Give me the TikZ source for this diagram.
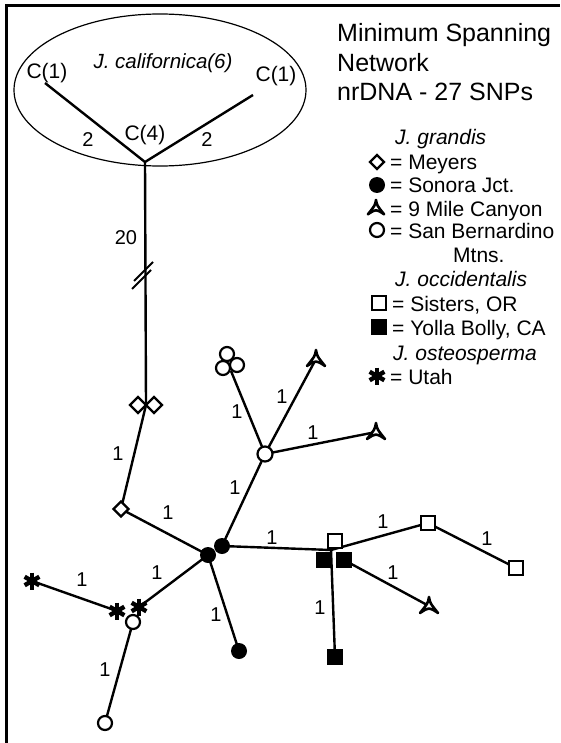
\documentclass[tikz,border=0pt]{standalone}
\usepackage{fontspec}
\setmainfont{Liberation Sans}
\usetikzlibrary{shapes.geometric,backgrounds}
\tikzset{
  edge/.style={line width=2.4pt},
  lbl/.style={font=\fontsize{20}{22}\selectfont, inner sep=0pt},
  clbl/.style={font=\fontsize{21}{23}\selectfont, inner sep=0pt},
  ttl/.style={font=\fontsize{25}{30}\selectfont, inner sep=0pt, anchor=base west},
  leg/.style={font=\fontsize{21}{24}\selectfont, inner sep=0pt, anchor=base west},
  opencirc/.style={circle, draw, line width=2.2pt, fill=white, minimum size=14pt, inner sep=0pt},
  fillcirc/.style={circle, fill=black, minimum size=16pt, inner sep=0pt},
  opensq/.style={rectangle, draw, line width=2.2pt, fill=white, minimum size=14pt, inner sep=0pt},
  fillsq/.style={rectangle, fill=black, minimum size=16pt, inner sep=0pt},
  opendia/.style={diamond, draw, line width=2.2pt, fill=white, minimum size=17pt, inner sep=0pt},
  asterisk/.style={circle, minimum size=22pt, inner sep=0pt, path picture={
    \fill[shift={(path picture bounding box.center)}] (0,0) circle (4);
    \foreach \a in {90,30,150}
      \draw[line width=4.4pt, shift={(path picture bounding box.center)}] (\a:-8.5) -- (\a:8.5);}},
  tri/.style={circle, minimum size=30pt, inner sep=0pt, path picture={
    \draw[line width=2.6pt, fill=white, line join=round, shift={(path picture bounding box.center)}]
      (0,-9) .. controls (1,-3) .. (9,7) .. controls (0,1) .. (-9,7) .. controls (-1,-3) .. (0,-9) -- cycle;}}
}
\begin{document}
\begin{tikzpicture}[x=1pt,y=-1pt]
\useasboundingbox (0,0) rectangle (560,743);
% frame
\draw[line width=3pt] (6,743) -- (6,6) -- (560,6);
% californica ellipse
\draw[line width=1.2pt] (160,90) ellipse [x radius=146, y radius=76];
\coordinate (cfour) at (145,162);
\coordinate (cleft) at (45,83);
\coordinate (cright) at (253,95);
\node[clbl, font=\fontsize{20.5}{22}\selectfont\itshape] (calif) at (163,63) {J. californica(6)};
\node[clbl] (c1l) at (47,73) {C(1)};
\node[clbl] (c1r) at (276,76) {C(1)};
\node[clbl] (c4) at (145,135) {C(4)};
\node[lbl] (l2a) at (88,140) {2};
\node[lbl] (l2b) at (207,140) {2};
% network nodes
\node[opendia] (dia1) at (138,405) {};
\node[opendia] (dia2) at (154,405) {};
\coordinate (djunc) at (146,405);
\node[opendia, minimum size=16pt] (dia3) at (121,509) {};
\node[fillcirc] (son1) at (208,555) {};
\node[fillcirc] (son2) at (222,546) {};
\node[fillcirc] (son3) at (239,651) {};
\node[opencirc, minimum size=15pt] (sb1) at (265,454) {};
\node[opencirc] (sb2) at (227,354) {};
\node[opencirc] (sb3) at (223,368) {};
\node[opencirc] (sb4) at (237,365) {};
\coordinate (sbj) at (231,371);
\node[tri] (tri1) at (316,359) {};
\node[tri] (tri2) at (376,432) {};
\node[tri] (tri3) at (429,606) {};
\coordinate (cjunc) at (331,550);
\node[opensq] (sq1) at (335,541) {};
\node[fillsq] (fsq1) at (324,560) {};
\node[fillsq] (fsq2) at (344,560) {};
\node[opensq] (sq2) at (428,523) {};
\node[opensq] (sq3) at (516,568) {};
\node[fillsq] (fsq3) at (335,657) {};
\node[asterisk] (st1) at (117,611) {};
\node[asterisk] (st2) at (139,607) {};
\node[asterisk] (st3) at (32,581) {};
\node[opencirc] (sb5) at (133,622) {};
\node[opencirc] (sb6) at (105,723) {};
% edges
\begin{scope}[on background layer]
\draw[edge] (cleft) -- (cfour) -- (cright);
\draw[edge] (cfour) -- (djunc);
\draw[edge] (djunc) -- (dia3.center);
\draw[edge] (dia3.center) -- (son1.center);
\draw[edge] (son2.center) -- (sb1.center);
\draw[edge] (sb1.center) -- (sbj);
\draw[edge] (sb1.center) -- (tri1.center);
\draw[edge] (sb1.center) -- (tri2.center);
\draw[edge] (son2.center) -- (cjunc);
\draw[edge] (cjunc) -- (sq2.center);
\draw[edge] (sq2.center) -- (sq3.center);
\draw[edge] (fsq2.center) -- (tri3.center);
\draw[edge] (cjunc) -- (fsq3.center);
\draw[edge] (son1.center) -- (son3.center);
\draw[edge] (son1.center) -- (st2.center);
\draw[edge] (st1.center) -- (st3.center);
\draw[edge] (sb5.center) -- (sb6.center);
\end{scope}
% break marks
\draw[line width=2pt] (134,281) -- (153,262);
\draw[line width=2pt] (132,289) -- (151,270);
% edge labels
\node[lbl] (l20) at (126,238) {20};
\node[lbl] (e1) at (118,454) {1};
\node[lbl] (e2) at (168,513) {1};
\node[lbl] (e3) at (235,488) {1};
\node[lbl] (e4) at (237,412) {1};
\node[lbl] (e5) at (282,397) {1};
\node[lbl] (e6) at (313,433) {1};
\node[lbl] (e7) at (272,538) {1};
\node[lbl] (e8) at (383,522) {1};
\node[lbl] (e9) at (487,539) {1};
\node[lbl] (e10) at (393,573) {1};
\node[lbl] (e11) at (320,608) {1};
\node[lbl] (e12) at (216,615) {1};
\node[lbl] (e13) at (157,573) {1};
\node[lbl] (e14) at (82,580) {1};
\node[lbl] (e15) at (105,670) {1};
% title
\node[ttl] (t1) at (337,42) {Minimum Spanning};
\node[ttl] (t2) at (337,72) {Network};
\node[ttl] (t3) at (337,101) {nrDNA - 27 SNPs};
% legend
\node[leg, font=\fontsize{21}{24}\selectfont\itshape] (g1) at (395,145) {J. grandis};
\node[opendia, minimum size=15pt] (s1) at (377,162) {};
\node[leg] (g2) at (390,170) {= Meyers};
\node[fillcirc] (s2) at (377,185) {};
\node[leg] (g3) at (390,193) {= Sonora Jct.};
\node[tri, scale=0.9] (s3) at (376,208) {};
\node[leg] (g4) at (390,216) {= 9 Mile Canyon};
\node[opencirc] (s4) at (377,230) {};
\node[leg] (g5) at (390,238) {= San Bernardino};
\node[leg] (g6) at (453,262) {Mtns.};
\node[leg, font=\fontsize{21}{24}\selectfont\itshape] (g7) at (395,286) {J. occidentalis};
\node[opensq] (s5) at (379,303) {};
\node[leg] (g8) at (392,311) {= Sisters, OR};
\node[fillsq] (s6) at (379,327) {};
\node[leg] (g9) at (392,335) {= Yolla Bolly, CA};
\node[leg, font=\fontsize{21}{24}\selectfont\itshape] (g10) at (393,360) {J. osteosperma};
\node[asterisk] (s7) at (377,376) {};
\node[leg] (g11) at (390,384) {= Utah};
\end{tikzpicture}
\end{document}
